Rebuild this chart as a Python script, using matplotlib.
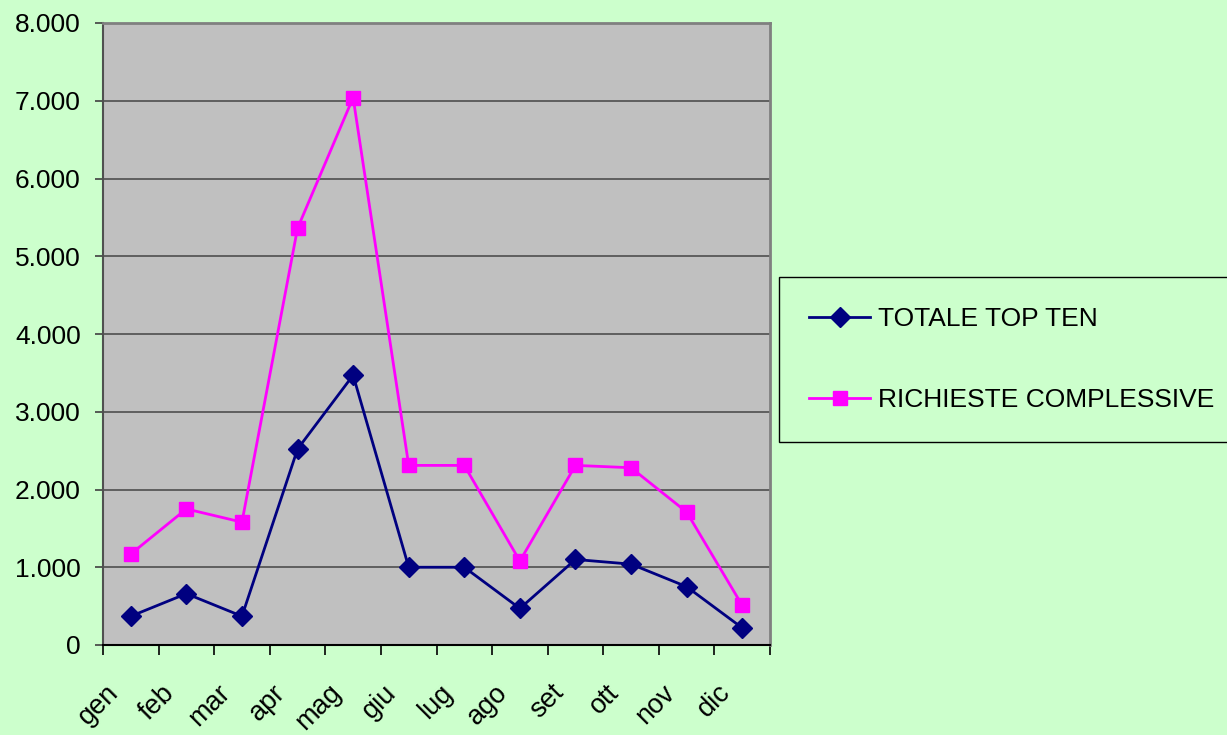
import matplotlib.pyplot as plt
import matplotlib.transforms as mtransforms
from matplotlib.ticker import FuncFormatter, FixedLocator

# Monthly data
months = ['gen', 'feb', 'mar', 'apr', 'mag', 'giu', 'lug', 'ago', 'set', 'ott', 'nov', 'dic']
top_ten = [370, 660, 370, 2520, 3470, 1000, 1000, 470, 1100, 1040, 750, 220]
richieste = [1170, 1750, 1580, 5360, 7040, 2310, 2310, 1080, 2310, 2280, 1710, 510]

plt.rcParams['font.family'] = ['Liberation Sans', 'DejaVu Sans']

bg = '#CCFFCC'
fig = plt.figure(figsize=(12.27, 7.35), dpi=100, facecolor=bg)
ax = fig.add_axes([103 / 1227, 90 / 735, 667 / 1227, 622 / 735])
ax.set_facecolor('#C0C0C0')

x = list(range(len(months)))

# Horizontal gridlines
ax.set_axisbelow(True)
ax.yaxis.grid(True, color='#454545', linewidth=1.1)

ax.plot(x, top_ten, color='#000080', linewidth=2, marker='D', markersize=10.5,
        label='TOTALE TOP TEN', clip_on=False)
ax.plot(x, richieste, color='#FF00FF', linewidth=2, marker='s', markersize=9.5,
        label='RICHIESTE COMPLESSIVE', clip_on=False)

ax.set_xlim(-0.5, len(months) - 0.5)
ax.set_ylim(0, 8000)
ax.set_yticks(range(0, 8001, 1000))
ax.yaxis.set_major_formatter(FuncFormatter(lambda v, p: f'{int(v):,}'.replace(',', '.')))

# Category axis: ticks at boundaries, labels in the middle
ax.xaxis.set_major_locator(FixedLocator([i - 0.5 for i in range(len(months) + 1)]))
ax.xaxis.set_major_formatter(FuncFormatter(lambda v, p: ''))
ax.set_xticks(x, minor=True)
ax.set_xticklabels(months, minor=True, rotation=45, ha='right', va='top',
                   rotation_mode='anchor', fontsize=19.5)
ax.tick_params(axis='x', which='minor', length=0, pad=25)
ax.tick_params(axis='x', which='major', length=7, width=1.2, color='black')
ax.tick_params(axis='y', length=6, width=1.2, color='#404040', labelsize=19, pad=10)

# shift the rotated month labels a bit to the left, like the original
shift = mtransforms.ScaledTranslation(-0.25, 0, fig.dpi_scale_trans)
for lbl in ax.get_xticklabels(minor=True):
    lbl.set_transform(lbl.get_transform() + shift)

for side in ['top', 'right']:
    ax.spines[side].set_color('#808080')
    ax.spines[side].set_linewidth(2)
ax.spines['left'].set_color('#505050')
ax.spines['left'].set_linewidth(1.5)
ax.spines['bottom'].set_color('black')
ax.spines['bottom'].set_linewidth(1.5)

leg = ax.legend(loc='upper left', bbox_to_anchor=(779 / 1227, 1 - 277 / 735),
                bbox_transform=fig.transFigure, fontsize=19, frameon=True,
                fancybox=False, facecolor=bg, edgecolor='black', framealpha=1,
                handlelength=2.3, handletextpad=0.3, labelspacing=2.15,
                borderpad=1.15, borderaxespad=0)
leg.get_frame().set_linewidth(1)

plt.savefig('out.png', dpi=100, facecolor=bg)
